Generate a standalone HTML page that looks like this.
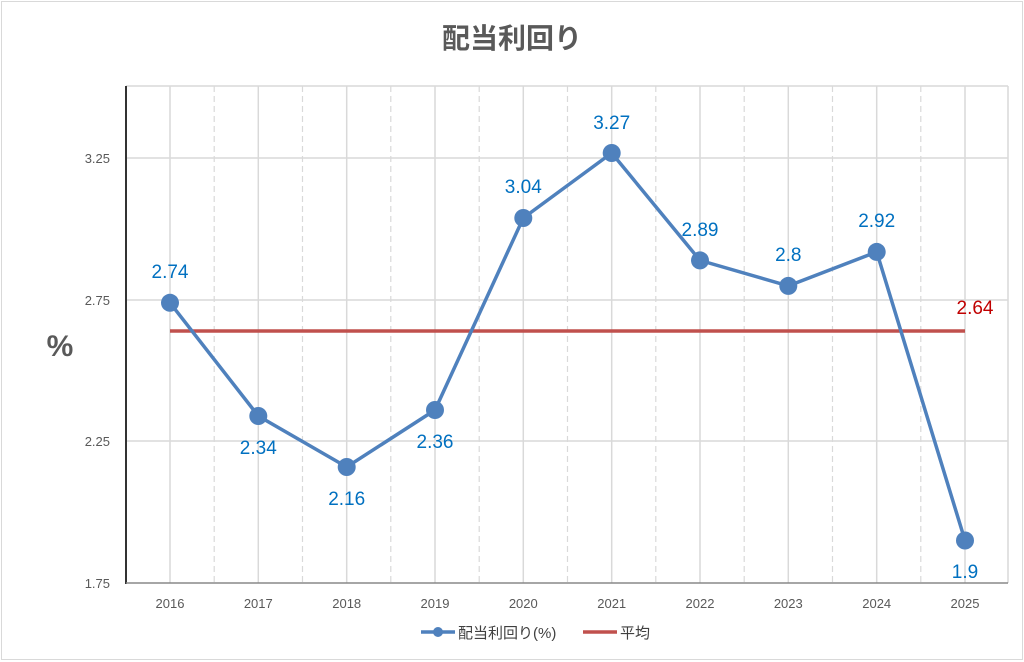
<!DOCTYPE html>
<html><head><meta charset="utf-8"><style>
body{margin:0;background:#fff}
svg{display:block;font-family:"Liberation Sans","Noto Sans CJK JP",sans-serif}
</style></head><body>
<svg width="1024" height="662" viewBox="0 0 1024 662">
<rect x="1.5" y="1.5" width="1021" height="658" fill="#fff" stroke="#d9d9d9"/>
<text x="512" y="48" text-anchor="middle" font-size="28" font-weight="bold" fill="#595959">配当利回り</text>
<g stroke="#d9d9d9" stroke-width="1.5">
<line x1="126" y1="158" x2="1008" y2="158"/><line x1="126" y1="300" x2="1008" y2="300"/><line x1="126" y1="441" x2="1008" y2="441"/>
<line x1="126" y1="86" x2="1008" y2="86"/><line x1="1008" y1="86" x2="1008" y2="583"/>
<line x1="170" y1="86" x2="170" y2="583"/><line x1="258.3" y1="86" x2="258.3" y2="583"/><line x1="346.7" y1="86" x2="346.7" y2="583"/><line x1="435" y1="86" x2="435" y2="583"/><line x1="523.3" y1="86" x2="523.3" y2="583"/><line x1="611.7" y1="86" x2="611.7" y2="583"/><line x1="700" y1="86" x2="700" y2="583"/><line x1="788.3" y1="86" x2="788.3" y2="583"/><line x1="876.7" y1="86" x2="876.7" y2="583"/><line x1="965" y1="86" x2="965" y2="583"/>
</g>
<g stroke="#d9d9d9" stroke-width="1.2" stroke-dasharray="6,4">
<line x1="214.2" y1="86" x2="214.2" y2="583"/><line x1="302.5" y1="86" x2="302.5" y2="583"/><line x1="390.8" y1="86" x2="390.8" y2="583"/><line x1="479.2" y1="86" x2="479.2" y2="583"/><line x1="567.5" y1="86" x2="567.5" y2="583"/><line x1="655.8" y1="86" x2="655.8" y2="583"/><line x1="744.2" y1="86" x2="744.2" y2="583"/><line x1="832.5" y1="86" x2="832.5" y2="583"/><line x1="920.8" y1="86" x2="920.8" y2="583"/>
</g>
<line x1="126" y1="86" x2="126" y2="584" stroke="#333" stroke-width="2"/>
<line x1="126" y1="583" x2="1008" y2="583" stroke="#888" stroke-width="1.5"/>
<g font-size="13" fill="#595959" text-anchor="end">
<text x="110" y="163">3.25</text><text x="110" y="305">2.75</text><text x="110" y="446">2.25</text><text x="110" y="588">1.75</text>
</g>
<text x="60" y="356" text-anchor="middle" font-size="30" font-weight="bold" fill="#595959">%</text>
<g font-size="13" fill="#595959" text-anchor="middle">
<text x="170" y="608">2016</text><text x="258.3" y="608">2017</text><text x="346.7" y="608">2018</text><text x="435" y="608">2019</text><text x="523.3" y="608">2020</text><text x="611.7" y="608">2021</text><text x="700" y="608">2022</text><text x="788.3" y="608">2023</text><text x="876.7" y="608">2024</text><text x="965" y="608">2025</text>
</g>
<line x1="170" y1="331" x2="965" y2="331" stroke="#c0504d" stroke-width="3.5"/>
<polyline fill="none" stroke="#4f81bd" stroke-width="3.5" points="170,302.8 258.3,416 346.7,467 435,410 523.3,218 611.7,153 700,260.4 788.3,285.9 876.7,251.9 965,540.5"/>
<g fill="#4f81bd">
<circle cx="170" cy="302.8" r="9"/><circle cx="258.3" cy="416" r="9"/><circle cx="346.7" cy="467" r="9"/><circle cx="435" cy="410" r="9"/><circle cx="523.3" cy="218" r="9"/><circle cx="611.7" cy="153" r="9"/><circle cx="700" cy="260.4" r="9"/><circle cx="788.3" cy="285.9" r="9"/><circle cx="876.7" cy="251.9" r="9"/><circle cx="965" cy="540.5" r="9"/>
</g>
<g font-size="19" fill="#0070c0" text-anchor="middle">
<text x="170" y="278">2.74</text><text x="258.3" y="454">2.34</text><text x="346.7" y="505">2.16</text><text x="435" y="448">2.36</text><text x="523.3" y="193">3.04</text><text x="611.7" y="129">3.27</text><text x="700" y="236">2.89</text><text x="788.3" y="261">2.8</text><text x="876.7" y="227">2.92</text><text x="965" y="578">1.9</text>
</g>
<text x="975" y="314" text-anchor="middle" font-size="19" fill="#c00000">2.64</text>
<line x1="421" y1="632" x2="455" y2="632" stroke="#4f81bd" stroke-width="3.5"/>
<circle cx="438" cy="632" r="5" fill="#4f81bd"/>
<text x="458" y="638" font-size="15" fill="#404040">配当利回り(%)</text>
<line x1="583" y1="632" x2="617" y2="632" stroke="#c0504d" stroke-width="3.5"/>
<text x="620" y="638" font-size="15" fill="#404040">平均</text>
</svg>
</body></html>
